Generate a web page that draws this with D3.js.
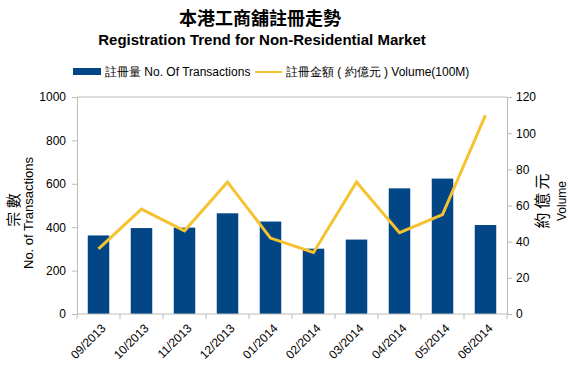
<!DOCTYPE html>
<html>
<head>
<meta charset="utf-8">
<script src="https://cdn.jsdelivr.net/npm/d3@7"></script>
<style>
  html, body { margin: 0; padding: 0; background: #fff; overflow: hidden; }
  svg { display: block; }
  text { font-family: "Liberation Sans", Arial, sans-serif; }
</style>
</head>
<body>
<div id="chart"></div>
<script>
// data
const months = ["09/2013", "10/2013", "11/2013", "12/2013", "01/2014",
                "02/2014", "03/2014", "04/2014", "05/2014", "06/2014"];
const transactions = [362, 396, 398, 464, 426, 301, 343, 579, 624, 410];
const volume = [36, 58, 46, 73, 42, 34, 73, 45, 55, 110];
const leftTicks = [0, 200, 400, 600, 800, 1000];
const rightTicks = [0, 20, 40, 60, 80, 100, 120];

const width = 570, height = 370;
const margin = { top: 97, right: 63, bottom: 56, left: 77 };
const innerWidth = width - margin.left - margin.right;
const innerHeight = height - margin.top - margin.bottom;

const barColor = "#034686";
const lineColor = "#F7C22F";
const axisColor = "#bcbcbc";

const svg = d3.select("#chart").append("svg")
    .attr("width", width)
    .attr("height", height);

// turn start/end anchored texts into middle anchored ones, same place on screen
function toMiddle(sel) {
    sel.each(function () {
        const t = d3.select(this);
        const anchor = t.attr("text-anchor") || getComputedStyle(this).textAnchor || "start";
        const w = this.getComputedTextLength();
        const x0 = +t.attr("x") || 0;
        if (anchor === "end") t.attr("x", x0 - w / 2);
        else if (anchor === "start") t.attr("x", x0 + w / 2);
        t.attr("text-anchor", "middle");
    });
}

// titles
svg.append("text")
    .attr("x", 260).attr("y", 25)
    .attr("text-anchor", "middle")
    .style("font-family", "'Noto Sans CJK TC', sans-serif")
    .style("font-weight", "bold")
    .style("font-size", "18px")
    .text("本港工商舖註冊走勢");

svg.append("text")
    .attr("x", 262).attr("y", 45)
    .attr("text-anchor", "middle")
    .style("font-weight", "bold")
    .style("font-size", "15px")
    .text("Registration Trend for Non-Residential Market");

// legend
svg.append("rect")
    .attr("x", 73).attr("y", 68).attr("width", 28).attr("height", 7)
    .attr("fill", barColor);
svg.append("text")
    .attr("x", 105).attr("y", 76)
    .attr("text-anchor", "start")
    .style("font-size", "12px")
    .text("註冊量 No. Of Transactions")
    .call(toMiddle);
svg.append("line")
    .attr("x1", 255).attr("x2", 282).attr("y1", 72).attr("y2", 72)
    .attr("stroke", lineColor).attr("stroke-width", 2);
svg.append("text")
    .attr("x", 286).attr("y", 76)
    .attr("text-anchor", "start")
    .style("font-size", "12px")
    .text("註冊金額 ( 約億元 ) Volume(100M)")
    .call(toMiddle);

const g = svg.append("g")
    .attr("transform", `translate(${margin.left}, ${margin.top})`);

// scales
const x = d3.scaleBand()
    .domain(months)
    .range([0, innerWidth])
    .paddingInner(0.5)
    .paddingOuter(0.25);

const yLeft = d3.scaleLinear().domain([0, 1000]).range([innerHeight, 0]);
const yRight = d3.scaleLinear().domain([0, 120]).range([innerHeight, 0]);

// top border
g.append("line")
    .attr("x1", 0).attr("x2", innerWidth)
    .attr("y1", 0).attr("y2", 0)
    .attr("stroke", axisColor);

// bars
g.selectAll("rect.bar")
    .data(months)
    .join("rect")
    .attr("class", "bar")
    .attr("x", d => x(d))
    .attr("y", (d, i) => yLeft(transactions[i]))
    .attr("width", x.bandwidth())
    .attr("height", (d, i) => innerHeight - yLeft(transactions[i]))
    .attr("fill", barColor);

// line
const line = d3.line()
    .x((d, i) => x(months[i]) + x.bandwidth() / 2)
    .y(d => yRight(d));

g.append("path")
    .datum(volume)
    .attr("d", line)
    .attr("fill", "none")
    .attr("stroke", lineColor)
    .attr("stroke-width", 3)
    .attr("stroke-linejoin", "miter");

// axes
function styleAxis(sel, anchor) {
    sel.attr("text-anchor", null);
    sel.select(".domain").attr("stroke", axisColor);
    sel.selectAll(".tick line").attr("stroke", axisColor);
    sel.selectAll("text")
        .attr("fill", "#000")
        .attr("text-anchor", anchor)
        .style("font-family", "'Liberation Sans', Arial, sans-serif")
        .style("font-size", "12px")
        .call(toMiddle);
}

g.append("g")
    .call(d3.axisLeft(yLeft).tickValues(leftTicks).tickFormat(d3.format("d"))
        .tickSizeOuter(0).tickSize(5).tickPadding(6))
    .call(styleAxis, "end");

g.append("g")
    .attr("transform", `translate(${innerWidth}, 0)`)
    .call(d3.axisRight(yRight).tickValues(rightTicks).tickFormat(d3.format("d"))
        .tickSizeOuter(0).tickSize(5).tickPadding(4))
    .call(styleAxis, "start");

// x axis: ticks at band boundaries
const step = x.step();
const xAxisG = g.append("g")
    .attr("transform", `translate(0, ${innerHeight})`);
xAxisG.append("line")
    .attr("x1", 0).attr("x2", innerWidth)
    .attr("stroke", axisColor);
xAxisG.selectAll("line.tick")
    .data(d3.range(months.length + 1))
    .join("line")
    .attr("class", "tick")
    .attr("x1", i => i * step).attr("x2", i => i * step)
    .attr("y1", 0).attr("y2", 5)
    .attr("stroke", axisColor);
xAxisG.selectAll("text")
    .data(months)
    .join("text")
    .attr("transform", d => `translate(${x(d) + x.bandwidth() / 2 + 5}, 12) rotate(-45)`)
    .attr("text-anchor", "end")
    .attr("dy", "0.35em")
    .style("font-size", "12px")
    .text(d => d)
    .call(toMiddle);

// axis titles
svg.append("text")
    .attr("transform", "translate(19, 210) rotate(-90)")
    .attr("text-anchor", "middle")
    .style("font-family", "'Noto Sans CJK TC', sans-serif")
    .style("font-size", "15px")
    .text("宗 數");
svg.append("text")
    .attr("transform", "translate(33, 213) rotate(-90)")
    .attr("text-anchor", "middle")
    .style("font-size", "13px")
    .text("No. of Transactions");

svg.append("text")
    .attr("transform", "translate(548, 201) rotate(-90)")
    .attr("text-anchor", "middle")
    .style("font-family", "'Noto Sans CJK TC', sans-serif")
    .style("font-size", "16px")
    .text("約 億 元");
svg.append("text")
    .attr("transform", "translate(566, 201) rotate(-90)")
    .attr("text-anchor", "middle")
    .style("font-size", "12px")
    .text("Volume");
</script>
</body>
</html>
